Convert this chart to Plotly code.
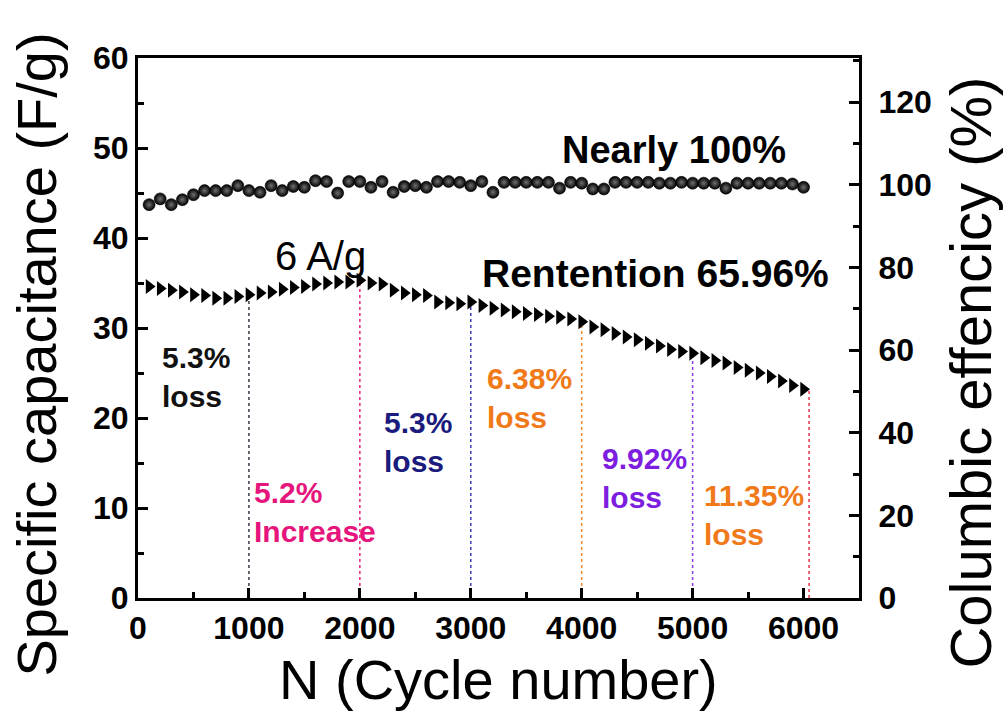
import plotly.graph_objects as go

# Cycling data: every 100 cycles from 100 to 6000
cycles = list(range(100, 6001, 100))

# Specific capacitance (F/g) at 6 A/g
capacitance = [
    34.6, 34.4, 34.2, 34.0, 33.7, 33.6, 33.3, 33.3, 33.5, 33.7,
    33.9, 34.0, 34.3, 34.5, 34.6, 34.9, 35.0, 35.1, 35.1, 35.3,
    35.0, 34.9, 34.2, 33.9, 33.7, 33.6, 32.9, 32.8, 32.7, 32.9,
    32.5, 32.2, 32.0, 31.8, 31.6, 31.5, 31.3, 31.2, 31.0, 30.7,
    30.1, 29.8, 29.4, 29.0, 28.7, 28.3, 28.0, 27.6, 27.4, 27.2,
    26.7, 26.4, 26.1, 25.6, 25.3, 25.0, 24.6, 24.1, 23.6, 23.2,
]

# Coulombic efficiency (%)
efficiency = [
    95.2, 96.6, 95.2, 96.4, 97.6, 98.6, 98.6, 98.6, 99.8, 98.6,
    98.2, 99.8, 98.6, 99.6, 99.4, 101.0, 100.8, 98.0, 100.8, 100.8,
    99.4, 100.8, 98.2, 99.6, 99.8, 99.4, 100.8, 100.8, 100.6, 99.8,
    100.8, 98.2, 100.6, 100.6, 100.6, 100.6, 100.6, 99.2, 100.6, 100.4,
    99.0, 99.0, 100.6, 100.6, 100.6, 100.6, 100.4, 100.4, 100.6, 100.4,
    100.4, 100.4, 99.2, 100.4, 100.4, 100.4, 100.4, 100.4, 100.2, 99.4,
]

# Segment boundaries and the change over each 1000-cycle stage
boundaries = [1000, 2000, 3000, 4000, 5000, 6050]
boundary_colors = ["#3a3a4a", "#e8247f", "#3b3bb0", "#f08a30", "#8a3ae8", "#e8304a"]

stage_labels = ["5.3%<br>loss", "5.2%<br>Increase", "5.3%<br>loss",
                "6.38%<br>loss", "9.92%<br>loss", "11.35%<br>loss"]
stage_colors = ["#111111", "#e6157c", "#1b1b7d", "#f07a1a", "#7d1de0", "#f07a1a"]
stage_x = [194, 1032, 2203, 3131, 4167, 5086]
stage_y = [24.6, 9.6, 17.3, 22.2, 13.3, 9.2]

FONT = "Liberation Sans, Arial, sans-serif"

fig = go.Figure()

# Dotted stage dividers, rising from the axis to the capacitance curve
for b, col in zip(boundaries, boundary_colors):
    top = capacitance[cycles.index(min(b, cycles[-1]))]
    fig.add_trace(go.Scatter(
        x=[b, b], y=[0, top], mode="lines",
        line=dict(color=col, width=1.5, dash="dot"),
        showlegend=False, hoverinfo="skip",
    ))

fig.add_trace(go.Scatter(
    x=cycles, y=capacitance, mode="markers", name="Capacitance",
    marker=dict(symbol="triangle-right", size=13, color="black"),
    showlegend=False,
))

fig.add_trace(go.Scatter(
    x=cycles, y=efficiency, mode="markers", name="Efficiency", yaxis="y2",
    marker=dict(symbol="circle", size=12, color="black",
                gradient=dict(type="radial", color="#707070"),
                line=dict(color="black", width=0.6)),
    showlegend=False,
))

annotations = [
    dict(x=1644, y=38.0, text="6 A/g", showarrow=False,
         font=dict(family=FONT, size=40, color="black")),
    dict(x=4833, y=49.8, text="<b>Nearly 100%</b>", showarrow=False,
         font=dict(family=FONT, size=38, color="black")),
    dict(x=4662, y=36.1, text="<b>Rentention 65.96%</b>", showarrow=False,
         font=dict(family=FONT, size=39, color="black")),
]
for t, c, x, y in zip(stage_labels, stage_colors, stage_x, stage_y):
    annotations.append(dict(
        x=x, y=y, text="<b>" + t + "</b>", showarrow=False,
        xanchor="left", align="left",
        font=dict(family=FONT, size=30, color=c),
    ))

# Axis titles
annotations.append(dict(
    xref="paper", yref="paper", x=0.5, y=-0.09,
    xanchor="center", yanchor="top", borderpad=0,
    text="N (Cycle number)", showarrow=False,
    font=dict(family=FONT, size=56, color="black"),
))
annotations.append(dict(
    xref="paper", yref="paper", x=-0.142, y=0.45,
    xanchor="center", yanchor="middle",
    text="Specific capacitance (F/g)", textangle=-90, showarrow=False,
    font=dict(family=FONT, size=56, color="black"),
))
annotations.append(dict(
    xref="paper", yref="paper", x=1.155, y=0.417,
    xanchor="center", yanchor="middle",
    text="Columbic effencicy (%)", textangle=-90, showarrow=False,
    font=dict(family=FONT, size=58, color="black"),
))

tickfont = dict(family=FONT, size=32, color="black", weight="bold")

fig.update_layout(
    width=1008, height=719,
    margin=dict(l=138, r=149, t=58, b=121),
    paper_bgcolor="white", plot_bgcolor="white",
    annotations=annotations,
    xaxis=dict(
        range=[0, 6500], tickvals=[0, 1000, 2000, 3000, 4000, 5000, 6000],
        ticks="inside", ticklen=10, tickwidth=2.5, tickcolor="black",
        minor=dict(dtick=500, tick0=0, ticks="inside", ticklen=6, tickwidth=2.5, tickcolor="black"),
        showline=True, linewidth=3, linecolor="black", mirror=True,
        showgrid=False, zeroline=False, tickfont=tickfont,
    ),
    yaxis=dict(
        range=[0, 60], dtick=10,
        ticks="inside", ticklen=10, tickwidth=2.5, tickcolor="black",
        minor=dict(dtick=5, ticks="inside", ticklen=6, tickwidth=2.5, tickcolor="black"),
        showline=True, linewidth=3, linecolor="black",
        showgrid=False, zeroline=False, tickfont=tickfont,
    ),
    yaxis2=dict(
        range=[0, 130.7], tickvals=[0, 20, 40, 60, 80, 100, 120],
        overlaying="y", side="right",
        ticks="inside", ticklen=10, tickwidth=2.5, tickcolor="black",
        minor=dict(dtick=10, ticks="inside", ticklen=6, tickwidth=2.5, tickcolor="black"),
        showline=True, linewidth=3, linecolor="black",
        showgrid=False, zeroline=False, tickfont=tickfont, ticklabelstandoff=10,
    ),
)

fig.write_html("out.html")
